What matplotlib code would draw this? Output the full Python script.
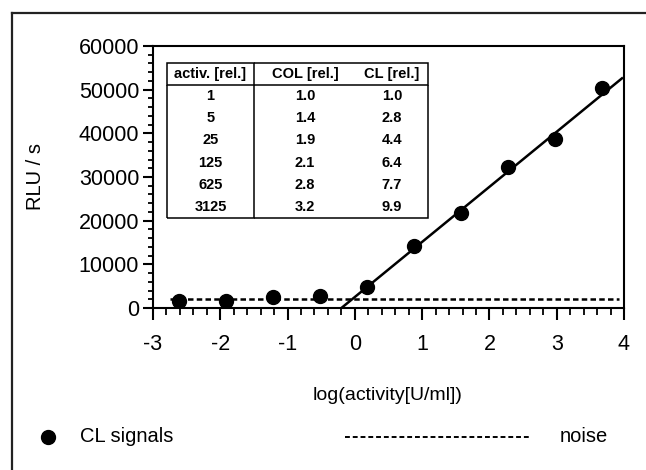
import matplotlib
matplotlib.use('Agg')
import matplotlib.pyplot as plt
from matplotlib.lines import Line2D
from matplotlib.ticker import MultipleLocator

plt.rcParams['font.family'] = ['Liberation Sans', 'DejaVu Sans']
plt.rcParams['axes.unicode_minus'] = False

# CL signal measurements
log_activity = [-2.62, -1.92, -1.22, -0.52, 0.18, 0.88, 1.58, 2.28, 2.98, 3.68]
cl_signal = [1500, 1500, 2500, 2800, 4800, 14200, 21800, 32300, 38800, 50300]

# noise level and regression line
noise_x = [-2.75, 3.92]
noise_y = [2000, 2000]
fit_x = [-0.2, 3.97]
fit_y = [0, 52600]

# inset table
table_header = ['activ. [rel.]', 'COL [rel.]', 'CL [rel.]']
activ_rel = ['1', '5', '25', '125', '625', '3125']
col_rel = ['1.0', '1.4', '1.9', '2.1', '2.8', '3.2']
cl_rel = ['1.0', '2.8', '4.4', '6.4', '7.7', '9.9']

fig = plt.figure(figsize=(6.46, 4.70), dpi=100)
ax = fig.add_axes([153 / 646, 1 - 308 / 470, 471 / 646, 262 / 470])

ax.plot(fit_x, fit_y, color='black', lw=1.8, zorder=2)
ax.plot(noise_x, noise_y, color='black', lw=1.8, dashes=(2.2, 1.3), zorder=2)
ax.plot(log_activity, cl_signal, 'o', color='black', ms=10, zorder=3)

ax.set_xlim(-3, 4)
ax.set_ylim(0, 60000)
ax.xaxis.set_major_locator(MultipleLocator(1))
ax.xaxis.set_minor_locator(MultipleLocator(0.2))
ax.yaxis.set_major_locator(MultipleLocator(10000))
ax.yaxis.set_minor_locator(MultipleLocator(2000))

for s in ax.spines.values():
    s.set_linewidth(1.5)
ax.tick_params(axis='x', which='major', direction='out', length=8.5, width=1.5,
               pad=10, labelsize=15.5)
ax.tick_params(axis='x', which='minor', direction='out', length=5, width=1.3)
ax.tick_params(axis='y', which='major', direction='out', length=7, width=1.5,
               pad=3, labelsize=15.5)
ax.tick_params(axis='y', which='minor', direction='out', length=3.5, width=1.3)

ax.set_xlabel('log(activity[U/ml])', fontsize=14)
ax.xaxis.set_label_coords(0.499, -0.30)
ax.set_ylabel('RLU / s', fontsize=14.5)
ax.yaxis.set_label_coords(-0.23, 0.5)

# table inside the plot
rows = [table_header] + [list(r) for r in zip(activ_rel, col_rel, cl_rel)]
x0 = (167 - 153) / 471
x1 = (428 - 153) / 471
y0 = (308 - 218) / 262
y1 = (308 - 63) / 262
tbl = ax.table(cellText=rows, cellLoc='center',
               colWidths=[87, 102, 72],
               bbox=[x0, y0, x1 - x0, y1 - y0], zorder=4)
tbl.auto_set_font_size(False)
n = len(rows)
for (r, c), cell in tbl.get_celld().items():
    cell.set_linewidth(1.1)
    cell.get_text().set_fontsize(10.5)
    cell.get_text().set_fontweight('bold')
    if r == 0:
        edges = {0: 'LTBR', 1: 'TB', 2: 'TBR'}[c]
    else:
        edges = {0: 'LR', 1: '', 2: 'R'}[c]
        if r == n - 1:
            edges += 'B'
    cell.visible_edges = edges if edges else 'open'
    cell.set_facecolor('white')

# legend below the plot
fy = 1 - 437 / 470
fig.add_artist(Line2D([48 / 646], [fy], marker='o', color='black', ms=10,
                      transform=fig.transFigure))
fig.text(80 / 646, fy, 'CL signals', fontsize=14.5, va='center', ha='left')
fig.add_artist(Line2D([345 / 646, 530 / 646], [fy, fy], color='black', lw=1.4,
                      dashes=(2.5, 1.5), transform=fig.transFigure))
fig.text(560 / 646, fy, 'noise', fontsize=14.5, va='center', ha='left')

# page frame
fig.add_artist(Line2D([12 / 646, 12 / 646], [0, 1 - 13 / 470], color='#222222',
                      lw=1.6, transform=fig.transFigure))
fig.add_artist(Line2D([12 / 646, 1], [1 - 13 / 470, 1 - 13 / 470], color='#222222',
                      lw=1.6, transform=fig.transFigure))

fig.savefig('out.png', dpi=100)
